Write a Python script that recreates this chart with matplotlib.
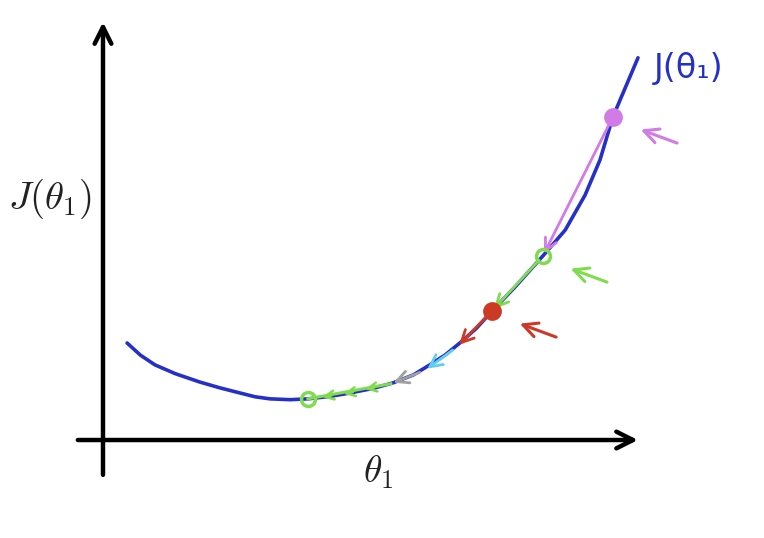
import matplotlib
matplotlib.use("Agg")
import matplotlib.pyplot as plt

plt.rcParams['mathtext.fontset'] = 'cm'

# cost curve J(theta1)
theta = [0.45, 0.70, 0.97, 1.35, 1.81, 2.19, 2.56, 2.84, 3.12, 3.50, 3.83,
         4.25, 4.62, 5.05, 5.42, 5.80, 6.11, 6.40, 6.67, 6.98, 7.27, 7.70,
         8.22, 8.64, 9.01, 9.29, 9.53, 9.76, 10.0]
cost = [2.31, 2.02, 1.79, 1.58, 1.38, 1.24, 1.12, 1.03, 0.98, 0.96, 0.98,
        1.04, 1.12, 1.23, 1.36, 1.55, 1.79, 2.03, 2.31, 2.66, 3.07, 3.64,
        4.38, 5.00, 5.83, 6.67, 7.69, 8.38, 9.10]

# gradient descent steps (start/end of each coloured stroke)
step_theta = [9.53, 8.22, 7.27, 6.62, 6.02, 5.38, 3.83]
step_cost = [7.69, 4.38, 3.07, 2.22, 1.66, 1.34, 0.98]
step_colors = ['#d27ae6', '#7fdc4e', '#cc3a26', '#5fcdf0', '#a0a0a0', '#7fdc4e']

# small chevrons along the last green stroke
chev_theta = [5.02, 4.62, 4.22]
chev_cost = [1.24, 1.13, 1.05]

# points marked with a dot and a side arrow
dot_theta = [9.53, 8.22, 7.27, 3.83]
dot_cost = [7.69, 4.38, 3.07, 0.98]
dot_colors = ['#d27ae6', '#7fdc4e', '#cc3a26', '#7fdc4e']
dot_filled = [True, False, True, False]
side_arrow = [True, True, True, False]

blue = '#2430c8'

fig = plt.figure(figsize=(7.64, 5.38), dpi=100)
ax = fig.add_axes([0, 0, 1, 1])
ax.set_xlim(-1.925, 12.355)
ax.set_ylim(-2.333, 10.476)
ax.axis('off')

# axes drawn as arrows
ax.annotate('', xy=(0, 9.95), xytext=(0, -0.83),
            arrowprops=dict(arrowstyle='->', lw=3.2, color='black',
                            mutation_scale=30, shrinkA=0, shrinkB=0))
ax.annotate('', xy=(10.0, 0), xytext=(-0.47, 0),
            arrowprops=dict(arrowstyle='->', lw=3.2, color='black',
                            mutation_scale=30, shrinkA=0, shrinkB=0))

ax.text(-0.98, 5.75, r'$J(\theta_1)$', fontsize=28, color='#222222',
        ha='center', va='center')
ax.text(5.15, -0.78, r'$\theta_1$', fontsize=27, color='#222222',
        ha='center', va='center')

# the curve
ax.plot(theta, cost, color=blue, lw=2.6, solid_capstyle='round',
        solid_joinstyle='round', zorder=2)
ax.text(10.3, 8.85, 'J(θ₁)', fontsize=24, color=blue, ha='left', va='center')

# descent strokes
for i, c in enumerate(step_colors):
    x0, y0 = step_theta[i], step_cost[i]
    x1, y1 = step_theta[i + 1], step_cost[i + 1]
    if i == len(step_colors) - 1:
        ax.plot([x0, x1], [y0, y1], color=c, lw=2.2, zorder=3)
        continue
    ax.annotate('', xy=(x1, y1), xytext=(x0, y0),
                arrowprops=dict(arrowstyle='->', lw=2.0, color=c,
                                mutation_scale=22, shrinkA=4, shrinkB=2),
                zorder=3)

for x, y in zip(chev_theta, chev_cost):
    ax.annotate('', xy=(x - 0.12, y - 0.03), xytext=(x + 0.05, y + 0.01),
                arrowprops=dict(arrowstyle='->', lw=1.8, color=step_colors[-1],
                                mutation_scale=16, shrinkA=0, shrinkB=0),
                zorder=3)

# dots and side arrows
for x, y, c, f, s in zip(dot_theta, dot_cost, dot_colors, dot_filled, side_arrow):
    ax.plot(x, y, 'o', ms=11 if f else 10, mfc=c if f else 'none',
            mec=c, mew=2.5, zorder=4)
    if s:
        ax.annotate('', xy=(x + 0.52, y - 0.3), xytext=(x + 1.2, y - 0.62),
                    arrowprops=dict(arrowstyle='->', lw=2.2, color=c,
                                    mutation_scale=26, shrinkA=0, shrinkB=0),
                    zorder=3)

fig.savefig('out.png', dpi=100, facecolor='white')
